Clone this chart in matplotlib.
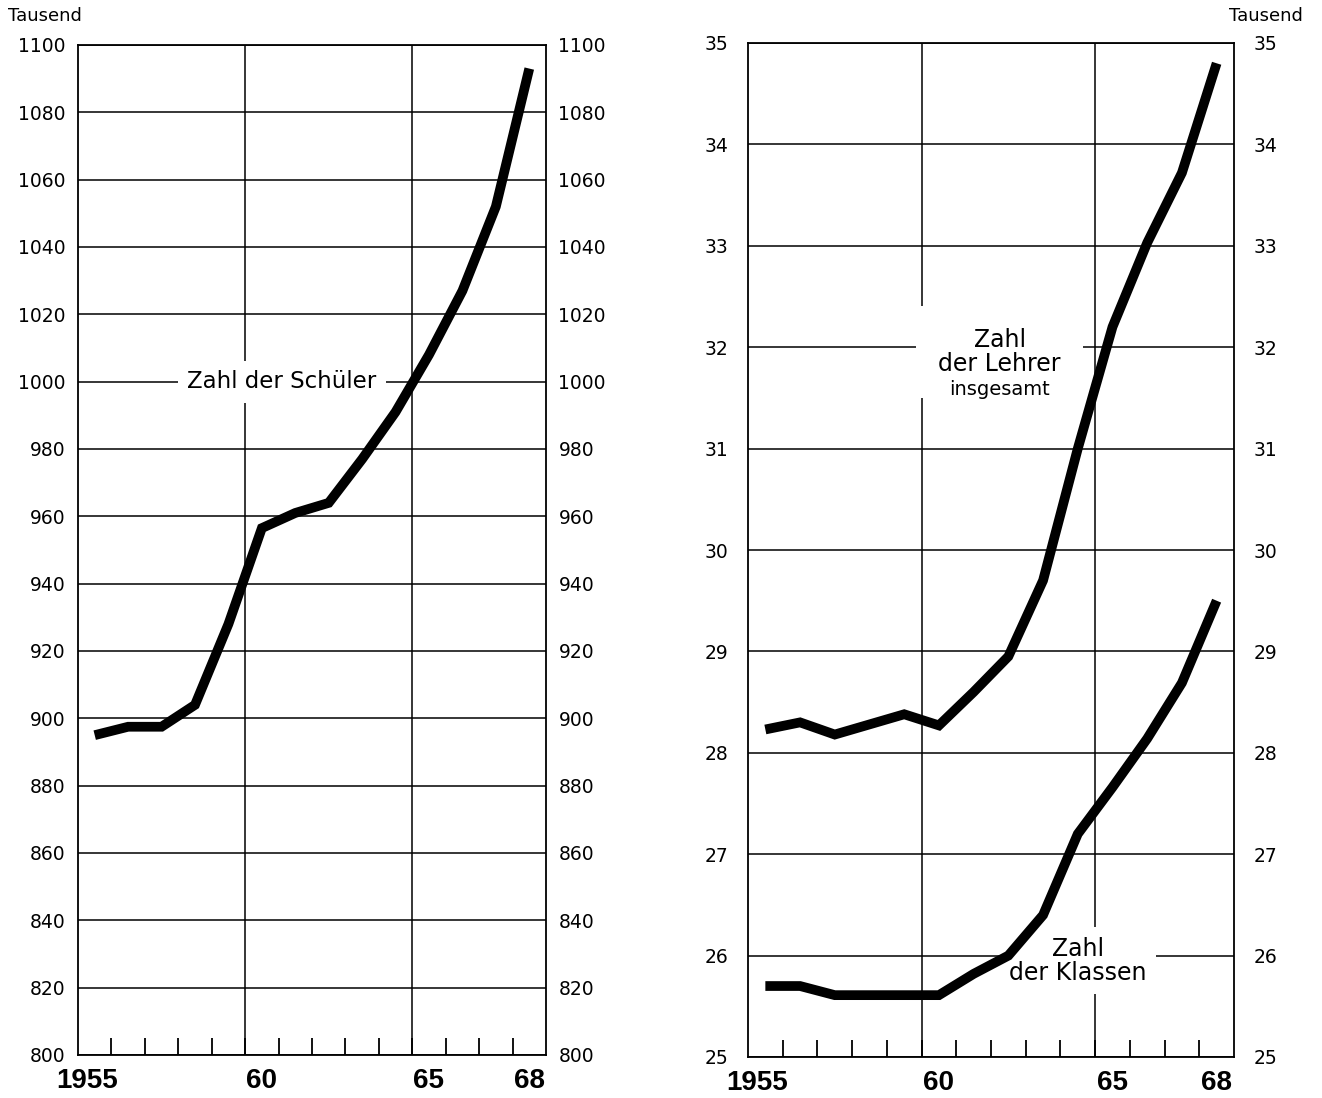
import matplotlib
matplotlib.use("Agg")
import matplotlib.pyplot as plt
import matplotlib.transforms as mtransforms
import numpy as np

years = list(range(1955, 1969))
year_labels = ['1955', '60', '65', '68']
label_years = [1955, 1960, 1965, 1968]

# Tausend
schueler = [895, 897.5, 897.5, 904, 928, 956.5, 961, 964, 977, 991, 1008, 1027, 1052, 1093]
lehrer = [28.23, 28.30, 28.18, 28.28, 28.38, 28.27, 28.6, 28.95, 29.7, 31.0, 32.2, 33.03, 33.72, 34.8]
klassen = [25.70, 25.70, 25.61, 25.61, 25.61, 25.61, 25.82, 26.0, 26.4, 27.2, 27.66, 28.14, 28.69, 29.5]

ticks_left = list(range(800, 1101, 20))
ticks_right = list(range(25, 36))

plt.rcParams['font.family'] = ['DejaVu Sans']
W, H = 1322, 1098
fig = plt.figure(figsize=(W / 100, H / 100), dpi=100)


def setup(ax, yticks, pad):
    ax.set_xlim(1954.5, 1968.5)
    ax.set_ylim(yticks[0], yticks[-1])
    ax.set_yticks(yticks)
    ax.yaxis.grid(True, color='black', lw=1.1)
    ax.set_axisbelow(True)
    # two full-height lines between the 5-year blocks
    for b in (1959.5, 1964.5):
        ax.axvline(b, color='black', lw=1.1, zorder=1)
    for s in ax.spines.values():
        s.set_linewidth(1.3)
    ax.tick_params(axis='y', left=True, right=True, labelleft=True, labelright=True,
                   length=0, labelsize=13.5, pad=pad)
    ax.set_xticks(label_years)
    ax.set_xticklabels(year_labels, fontsize=20, fontweight='bold',
                       family=['Liberation Sans', 'DejaVu Sans'])
    ax.set_xticks(np.arange(1955.5, 1968, 1), minor=True)
    ax.tick_params(axis='x', which='major', length=0, pad=9)
    ax.tick_params(axis='x', which='minor', direction='in', length=12, width=1.3)
    # "1955" sits a little left of its year in the original
    first = ax.get_xticklabels()[0]
    first.set_transform(first.get_transform() +
                        mtransforms.ScaledTranslation(-8 / 100, 0, fig.dpi_scale_trans))


ax1 = fig.add_axes([78 / W, (H - 1055) / H, (546 - 78) / W, (1055 - 45) / H])
ax2 = fig.add_axes([748 / W, (H - 1057) / H, (1234 - 748) / W, (1057 - 43) / H])

setup(ax1, ticks_left, 9)
setup(ax2, ticks_right, 14)

ax1.plot(years, schueler, color='black', lw=7, solid_joinstyle='miter',
         solid_capstyle='butt', zorder=4)
ax2.plot(years, lehrer, color='black', lw=7, solid_joinstyle='miter',
         solid_capstyle='butt', zorder=4)
ax2.plot(years, klassen, color='black', lw=7, solid_joinstyle='miter',
         solid_capstyle='butt', zorder=4)

ax1.text(1960.6, 1000, 'Zahl der Schüler', fontsize=16.5, ha='center', va='center',
         bbox=dict(facecolor='white', edgecolor='none', pad=7), zorder=3)
ax2.text(1961.75, 31.95, 'Zahl\nder Lehrer', fontsize=17, ha='center', va='center',
         linespacing=1.0, bbox=dict(facecolor='white', edgecolor='none', pad=16), zorder=3)
ax2.text(1961.75, 31.58, 'insgesamt', fontsize=14, ha='center', va='center', zorder=3,
         bbox=dict(facecolor='white', edgecolor='none', pad=3))
ax2.text(1964.0, 25.95, 'Zahl\nder Klassen', fontsize=17, ha='center', va='center',
         linespacing=1.0, bbox=dict(facecolor='white', edgecolor='none', pad=7), zorder=3)

fig.text(8 / W, 1 - 16 / H, 'Tausend', fontsize=13, ha='left', va='center')
fig.text(1303 / W, 1 - 16 / H, 'Tausend', fontsize=13, ha='right', va='center')

fig.savefig('out.png', dpi=100, facecolor='white')
